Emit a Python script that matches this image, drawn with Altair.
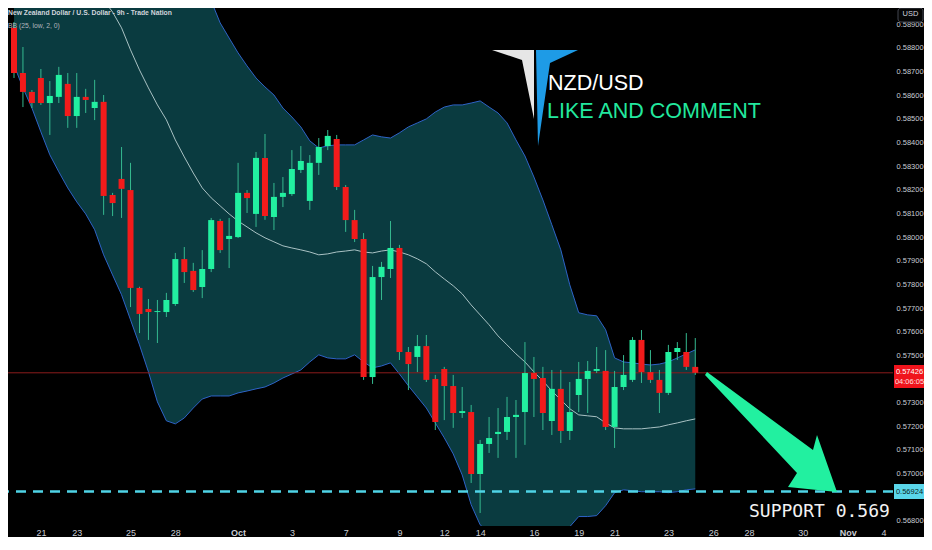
import altair as alt
import pandas as pd

# ---------------- data ----------------
opens = [0.58885, 0.58694, 0.58614, 0.58673, 0.58567, 0.58593, 0.58648, 0.58512, 0.58593, 0.58546,
         0.58572, 0.58178, 0.58246, 0.58199, 0.57785, 0.57696, 0.57683, 0.57683, 0.57717, 0.57907,
         0.57857, 0.57789, 0.57865, 0.58068, 0.57992, 0.58000, 0.58187, 0.58098, 0.58335, 0.58085,
         0.58170, 0.58182, 0.58284, 0.58153, 0.58314, 0.58385, 0.58415, 0.58212, 0.58072, 0.57992,
         0.57408, 0.57831, 0.57865, 0.57954, 0.57514, 0.57493, 0.57539, 0.57400, 0.57442, 0.57370,
         0.57256, 0.57260, 0.56998, 0.57125, 0.57167, 0.57176, 0.57239, 0.57260, 0.57425, 0.57404,
         0.57222, 0.57358, 0.57180, 0.57332, 0.57400, 0.57434, 0.57434, 0.57197, 0.57366, 0.57396,
         0.57565, 0.57429, 0.57396, 0.57341, 0.57514, 0.57514, 0.57451]
highs = [0.58910, 0.58804, 0.58622, 0.58711, 0.58660, 0.58720, 0.58694, 0.58694, 0.58627, 0.58665,
         0.58601, 0.58187, 0.58381, 0.58314, 0.57790, 0.57738, 0.57734, 0.57764, 0.57933, 0.57958,
         0.57891, 0.57945, 0.58081, 0.58077, 0.58081, 0.58314, 0.58199, 0.58360, 0.58436, 0.58229,
         0.58254, 0.58368, 0.58385, 0.58347, 0.58419, 0.58453, 0.58432, 0.58220, 0.58115, 0.58017,
         0.57878, 0.57895, 0.58068, 0.57967, 0.57535, 0.57586, 0.57586, 0.57417, 0.57451, 0.57417,
         0.57366, 0.57290, 0.57142, 0.57239, 0.57277, 0.57324, 0.57311, 0.57556, 0.57493, 0.57451,
         0.57438, 0.57438, 0.57387, 0.57472, 0.57476, 0.57535, 0.57522, 0.57434, 0.57501, 0.57577,
         0.57607, 0.57522, 0.57438, 0.57544, 0.57556, 0.57594, 0.57573]
lows = [0.58673, 0.58550, 0.58546, 0.58559, 0.58432, 0.58567, 0.58462, 0.58462, 0.58525, 0.58495,
        0.58094, 0.58089, 0.58081, 0.57704, 0.57594, 0.57565, 0.57552, 0.57662, 0.57709, 0.57806,
        0.57768, 0.57742, 0.57852, 0.57933, 0.57869, 0.57996, 0.58102, 0.58043, 0.58073, 0.58030,
        0.58127, 0.58174, 0.58271, 0.58115, 0.58263, 0.58368, 0.58199, 0.58022, 0.57979, 0.57396,
        0.57379, 0.57734, 0.57827, 0.57480, 0.57353, 0.57429, 0.57387, 0.57184, 0.57226, 0.57193,
        0.57235, 0.56960, 0.56833, 0.57087, 0.57066, 0.57142, 0.57066, 0.57121, 0.57239, 0.57184,
        0.57163, 0.57129, 0.57142, 0.57260, 0.57256, 0.57425, 0.57184, 0.57108, 0.57353, 0.57387,
        0.57383, 0.57383, 0.57256, 0.57332, 0.57480, 0.57438, 0.57417]
closes = [0.58694, 0.58614, 0.58567, 0.58567, 0.58597, 0.58686, 0.58512, 0.58593, 0.58580, 0.58572,
          0.58174, 0.58144, 0.58204, 0.57785, 0.57675, 0.57683, 0.57687, 0.57734, 0.57907, 0.57852,
          0.57776, 0.57865, 0.58072, 0.57945, 0.58005, 0.58187, 0.58165, 0.58335, 0.58089, 0.58170,
          0.58187, 0.58288, 0.58322, 0.58314, 0.58381, 0.58428, 0.58212, 0.58072, 0.57992, 0.57408,
          0.57831, 0.57874, 0.57954, 0.57514, 0.57463, 0.57539, 0.57396, 0.57218, 0.57370, 0.57256,
          0.57264, 0.56998, 0.57125, 0.57150, 0.57176, 0.57239, 0.57248, 0.57425, 0.57400, 0.57256,
          0.57358, 0.57180, 0.57260, 0.57400, 0.57434, 0.57442, 0.57197, 0.57366, 0.57417, 0.57565,
          0.57429, 0.57396, 0.57341, 0.57514, 0.57531, 0.57451, 0.57426]

bb_upper = [0.6040, 0.6034, 0.6027, 0.6021, 0.6015, 0.6008, 0.6002, 0.5996, 0.5989, 0.5983,
            0.5977, 0.5970, 0.5964, 0.5958, 0.5951, 0.5945, 0.5939, 0.5932, 0.5926, 0.5920,
            0.5913, 0.5907, 0.58999, 0.58906, 0.58842, 0.58779, 0.58724, 0.58673, 0.58635, 0.58601,
            0.58546, 0.58508, 0.58466, 0.58407, 0.58377, 0.58386, 0.58390, 0.58390, 0.58390, 0.58411,
            0.58432, 0.58424, 0.58419, 0.58441, 0.58466, 0.58483, 0.58500, 0.58529, 0.58550, 0.58559,
            0.58559, 0.58567, 0.58576, 0.58550, 0.58525, 0.58483, 0.58411, 0.58343, 0.58254, 0.58157,
            0.58052, 0.57946, 0.57798, 0.57680, 0.57671, 0.57667, 0.57608, 0.57489, 0.57472, 0.57468,
            0.57463, 0.57459, 0.57463, 0.57472, 0.57489, 0.57506, 0.57523]
bb_lower = [0.58728, 0.58631, 0.58546, 0.58445, 0.58348, 0.58276, 0.58208, 0.58149, 0.58098, 0.58031,
            0.57925, 0.57840, 0.57756, 0.57650, 0.57544, 0.57430, 0.57303, 0.57223, 0.57210, 0.57235,
            0.57277, 0.57315, 0.57328, 0.57328, 0.57328, 0.57341, 0.57349, 0.57358, 0.57366, 0.57383,
            0.57404, 0.57421, 0.57438, 0.57472, 0.57502, 0.57489, 0.57485, 0.57485, 0.57502, 0.57472,
            0.57447, 0.57455, 0.57468, 0.57421, 0.57371, 0.57324, 0.57277, 0.57214, 0.57151, 0.57083,
            0.56994, 0.56868, 0.56783, 0.56750, 0.56750, 0.56750, 0.56750, 0.56750, 0.56750, 0.56750,
            0.56750, 0.56750, 0.56775, 0.56818, 0.56818, 0.56822, 0.56864, 0.56919, 0.56931, 0.56927,
            0.56923, 0.56923, 0.56923, 0.56919, 0.56923, 0.56931, 0.56935]
bb_basis = [0.5964, 0.5958, 0.5951, 0.5945, 0.5939, 0.5932, 0.5926, 0.5920, 0.5913, 0.5907,
            0.59003, 0.58952, 0.58885, 0.58792, 0.58707, 0.58631, 0.58559, 0.58496, 0.58411, 0.58339,
            0.58271, 0.58208, 0.58166, 0.58132, 0.58098, 0.58068, 0.58043, 0.58018, 0.57997, 0.57980,
            0.57963, 0.57954, 0.57946, 0.57937, 0.57925, 0.57929, 0.57937, 0.57941, 0.57946, 0.57937,
            0.57933, 0.57941, 0.57946, 0.57937, 0.57925, 0.57908, 0.57887, 0.57853, 0.57823, 0.57794,
            0.57760, 0.57713, 0.57671, 0.57629, 0.57582, 0.57544, 0.57506, 0.57472, 0.57430, 0.57392,
            0.57349, 0.57312, 0.57274, 0.57248, 0.57244, 0.57240, 0.57214, 0.57193, 0.57189, 0.57189,
            0.57189, 0.57193, 0.57197, 0.57206, 0.57214, 0.57223, 0.57231]

date_ticks = [3, 7, 13, 18, 25, 31, 37, 43, 48, 52, 58, 63, 67, 73, 78, 82, 88, 93, 97]
date_labels = ["21", "23", "25", "28", "Oct", "3", "7", "9", "12", "14", "16", "19", "21", "23",
               "26", "28", "30", "Nov", "4"]
month_ticks = [25, 93]
# 0.569 and 0.574 sit under the price tags in the picture
price_ticks = [0.568, 0.570, 0.571, 0.572, 0.573, 0.575, 0.576, 0.577, 0.578,
               0.579, 0.580, 0.581, 0.582, 0.583, 0.584, 0.585, 0.586, 0.587, 0.588, 0.589]
last_price = [0.57426]
support_price = [0.56924]

# ---------------- styling ----------------
BG = "#000000"
GREEN = "#22f0a0"
RED = "#f21b1b"
WICK = "#35b98f"
BAND_FILL = "#0a3b40"
BAND_LINE = "#2e63c7"
BASIS = "#a9c2c4"
CYAN = "#4fd3e6"
AXIS_TXT = "#c9ccd4"
SANS = "Liberation Sans, Arial, sans-serif"

W, H = 885, 518
n = len(opens)
candles = pd.DataFrame({"i": list(range(n)), "open": opens, "high": highs,
                        "low": lows, "close": closes})
bands = pd.DataFrame({"i": list(range(n)), "upper": bb_upper, "lower": bb_lower,
                      "basis": bb_basis})

xscale = alt.Scale(domain=[-0.11, 97.5], nice=False, zero=False)
yscale = alt.Scale(domain=[0.56778, 0.58969], nice=False, zero=False)

label_expr = " : ".join(
    [f"datum.value == {t} ? '{l}'" for t, l in zip(date_ticks, date_labels)]) + " : ''"
month_test = " || ".join([f"datum.value == {t}" for t in month_ticks])

x_axis = alt.Axis(values=date_ticks, labelExpr=label_expr, title=None, grid=False,
                  ticks=False, domain=False, labelColor=AXIS_TXT, labelFontSize=9,
                  labelFont=SANS, labelPadding=2,
                  labelFontWeight={"condition": {"test": month_test, "value": "bold"},
                                   "value": "normal"},
                  labelOverlap=False, labelBound=False, labelFlush=False)
y_axis = alt.Axis(values=price_ticks, format=".5f", orient="right", title=None, grid=False,
                  ticks=False, domain=False, labelColor=AXIS_TXT, labelFontSize=7.5,
                  labelFont=SANS, labelAlign="left", labelPadding=3,
                  labelOverlap=False, labelBound=False, labelFlush=False)


def X():
    return alt.X("i:Q", scale=xscale, axis=x_axis)


def Y(field):
    return alt.Y(f"{field}:Q", scale=yscale, axis=y_axis)


band_area = alt.Chart(bands).mark_area(color=BAND_FILL, clip=True, opacity=1).encode(
    x=X(), y=Y("upper"), y2="lower:Q")
upper_line = alt.Chart(bands).mark_line(color=BAND_LINE, strokeWidth=1, clip=True).encode(
    x=X(), y=Y("upper"))
lower_line = alt.Chart(bands).mark_line(color=BAND_LINE, strokeWidth=1, clip=True).encode(
    x=X(), y=Y("lower"))
basis_line = alt.Chart(bands).mark_line(color=BASIS, strokeWidth=1, clip=True).encode(
    x=X(), y=Y("basis"))

price_line = alt.Chart(pd.DataFrame({"p": last_price})).mark_rule(
    color="#8a1c1c", strokeWidth=1).encode(y=Y("p"))

up_test = "datum.close >= datum.open"
wicks = alt.Chart(candles).mark_rule(strokeWidth=1, clip=True).encode(
    x=X(), y=Y("low"), y2="high:Q", color=alt.value(WICK))
bodies = alt.Chart(candles).mark_bar(size=6, clip=True).encode(
    x=X(), y=Y("open"), y2="close:Q",
    color=alt.condition(up_test, alt.value(GREEN), alt.value(RED)))

support_line = alt.Chart(pd.DataFrame({"p": support_price})).mark_rule(
    color=CYAN, strokeWidth=2.5, strokeDash=[10, 7]).encode(y=Y("p"))


def txt(s, px, py, size, color, font=SANS, weight="normal", align="left",
        baseline="middle"):
    return alt.Chart(pd.DataFrame({"t": [s]})).mark_text(
        font=font, fontSize=size, fontWeight=weight, color=color, align=align,
        baseline=baseline).encode(x=alt.value(px), y=alt.value(py), text="t:N")


def shape(path, px, py, color):
    return alt.Chart(pd.DataFrame({"s": [0]})).mark_point(
        shape=path, size=4, filled=True, fill=color, opacity=1).encode(
        x=alt.value(px), y=alt.value(py))


def box(x1, x2, y1, y2, fill, stroke=None, radius=0):
    kw = dict(fill=fill, cornerRadius=radius)
    if stroke:
        kw.update(stroke=stroke, strokeWidth=1)
    return alt.Chart(pd.DataFrame({"s": [0]})).mark_rect(**kw).encode(
        x=alt.value(x1), x2=alt.value(x2), y=alt.value(y1), y2=alt.value(y2))


header1 = txt("New Zealand Dollar / U.S. Dollar - 9h - Trade Nation", 0, 4.5, 6.8,
              "#d1d4dc", weight="bold")
header2 = txt("BB (25, low, 2, 0)", 0, 17.5, 6.8, "#b2b5be")

logo_white = shape("M-38,-30 L4,-30 L4,39 L-8,-20 Z", 522, 72, "#e6e6e6")
logo_blue = shape("M6,-30 L48,-30 L20,-17 L8,66 Z", 522, 72, "#1e9be6")
logo_t1 = txt("NZD/USD", 540, 82, 21.5, "#ffffff", baseline="alphabetic")
logo_t2 = txt("LIKE AND COMMENT", 539, 110, 21.5, "#22e89e", baseline="alphabetic")

arrow = shape("M-63,-58 L43,20 L47,5 L67,62 L18,57 L27,43 L-65,-55 Z", 762, 422, "#22f0a0")
support_txt = txt("SUPPORT 0.569", 741, 509, 18, "#f2f2f2",
                  font="DejaVu Sans Mono, monospace", baseline="alphabetic")

usd_box = box(890, 915, 0, 14, "#050505", stroke="#434651", radius=3)
usd_txt = txt("USD", 902.5, 6, 7.5, "#d1d4dc", align="center")
red_box = box(886, 916, 357, 380, "#f0141c")
red_t1 = txt("0.57426", 901.5, 363.5, 7.5, "#ffffff", align="center")
red_t2 = txt("04:06:05", 901.5, 374, 7.5, "#ffe0e0", align="center")
cy_box = box(886, 916, 476, 491, "#5ad6ea")
cy_t = txt("0.56924", 901.5, 483.5, 7.5, "#0b1f24", align="center")

chart = alt.layer(
    band_area, upper_line, lower_line, basis_line, price_line, wicks, bodies, support_line,
    header1, header2, logo_white, logo_blue, logo_t1, logo_t2, arrow, support_txt,
    usd_box, usd_txt, red_box, red_t1, red_t2, cy_box, cy_t
).properties(
    width=W, height=H,
    autosize=alt.AutoSizeParams(type="none"),
    padding={"left": 0, "top": 0, "right": 31, "bottom": 11},
).configure(background=BG).configure_view(strokeWidth=0)

chart.save("out.html", embed_options={"renderer": "svg", "actions": False})
